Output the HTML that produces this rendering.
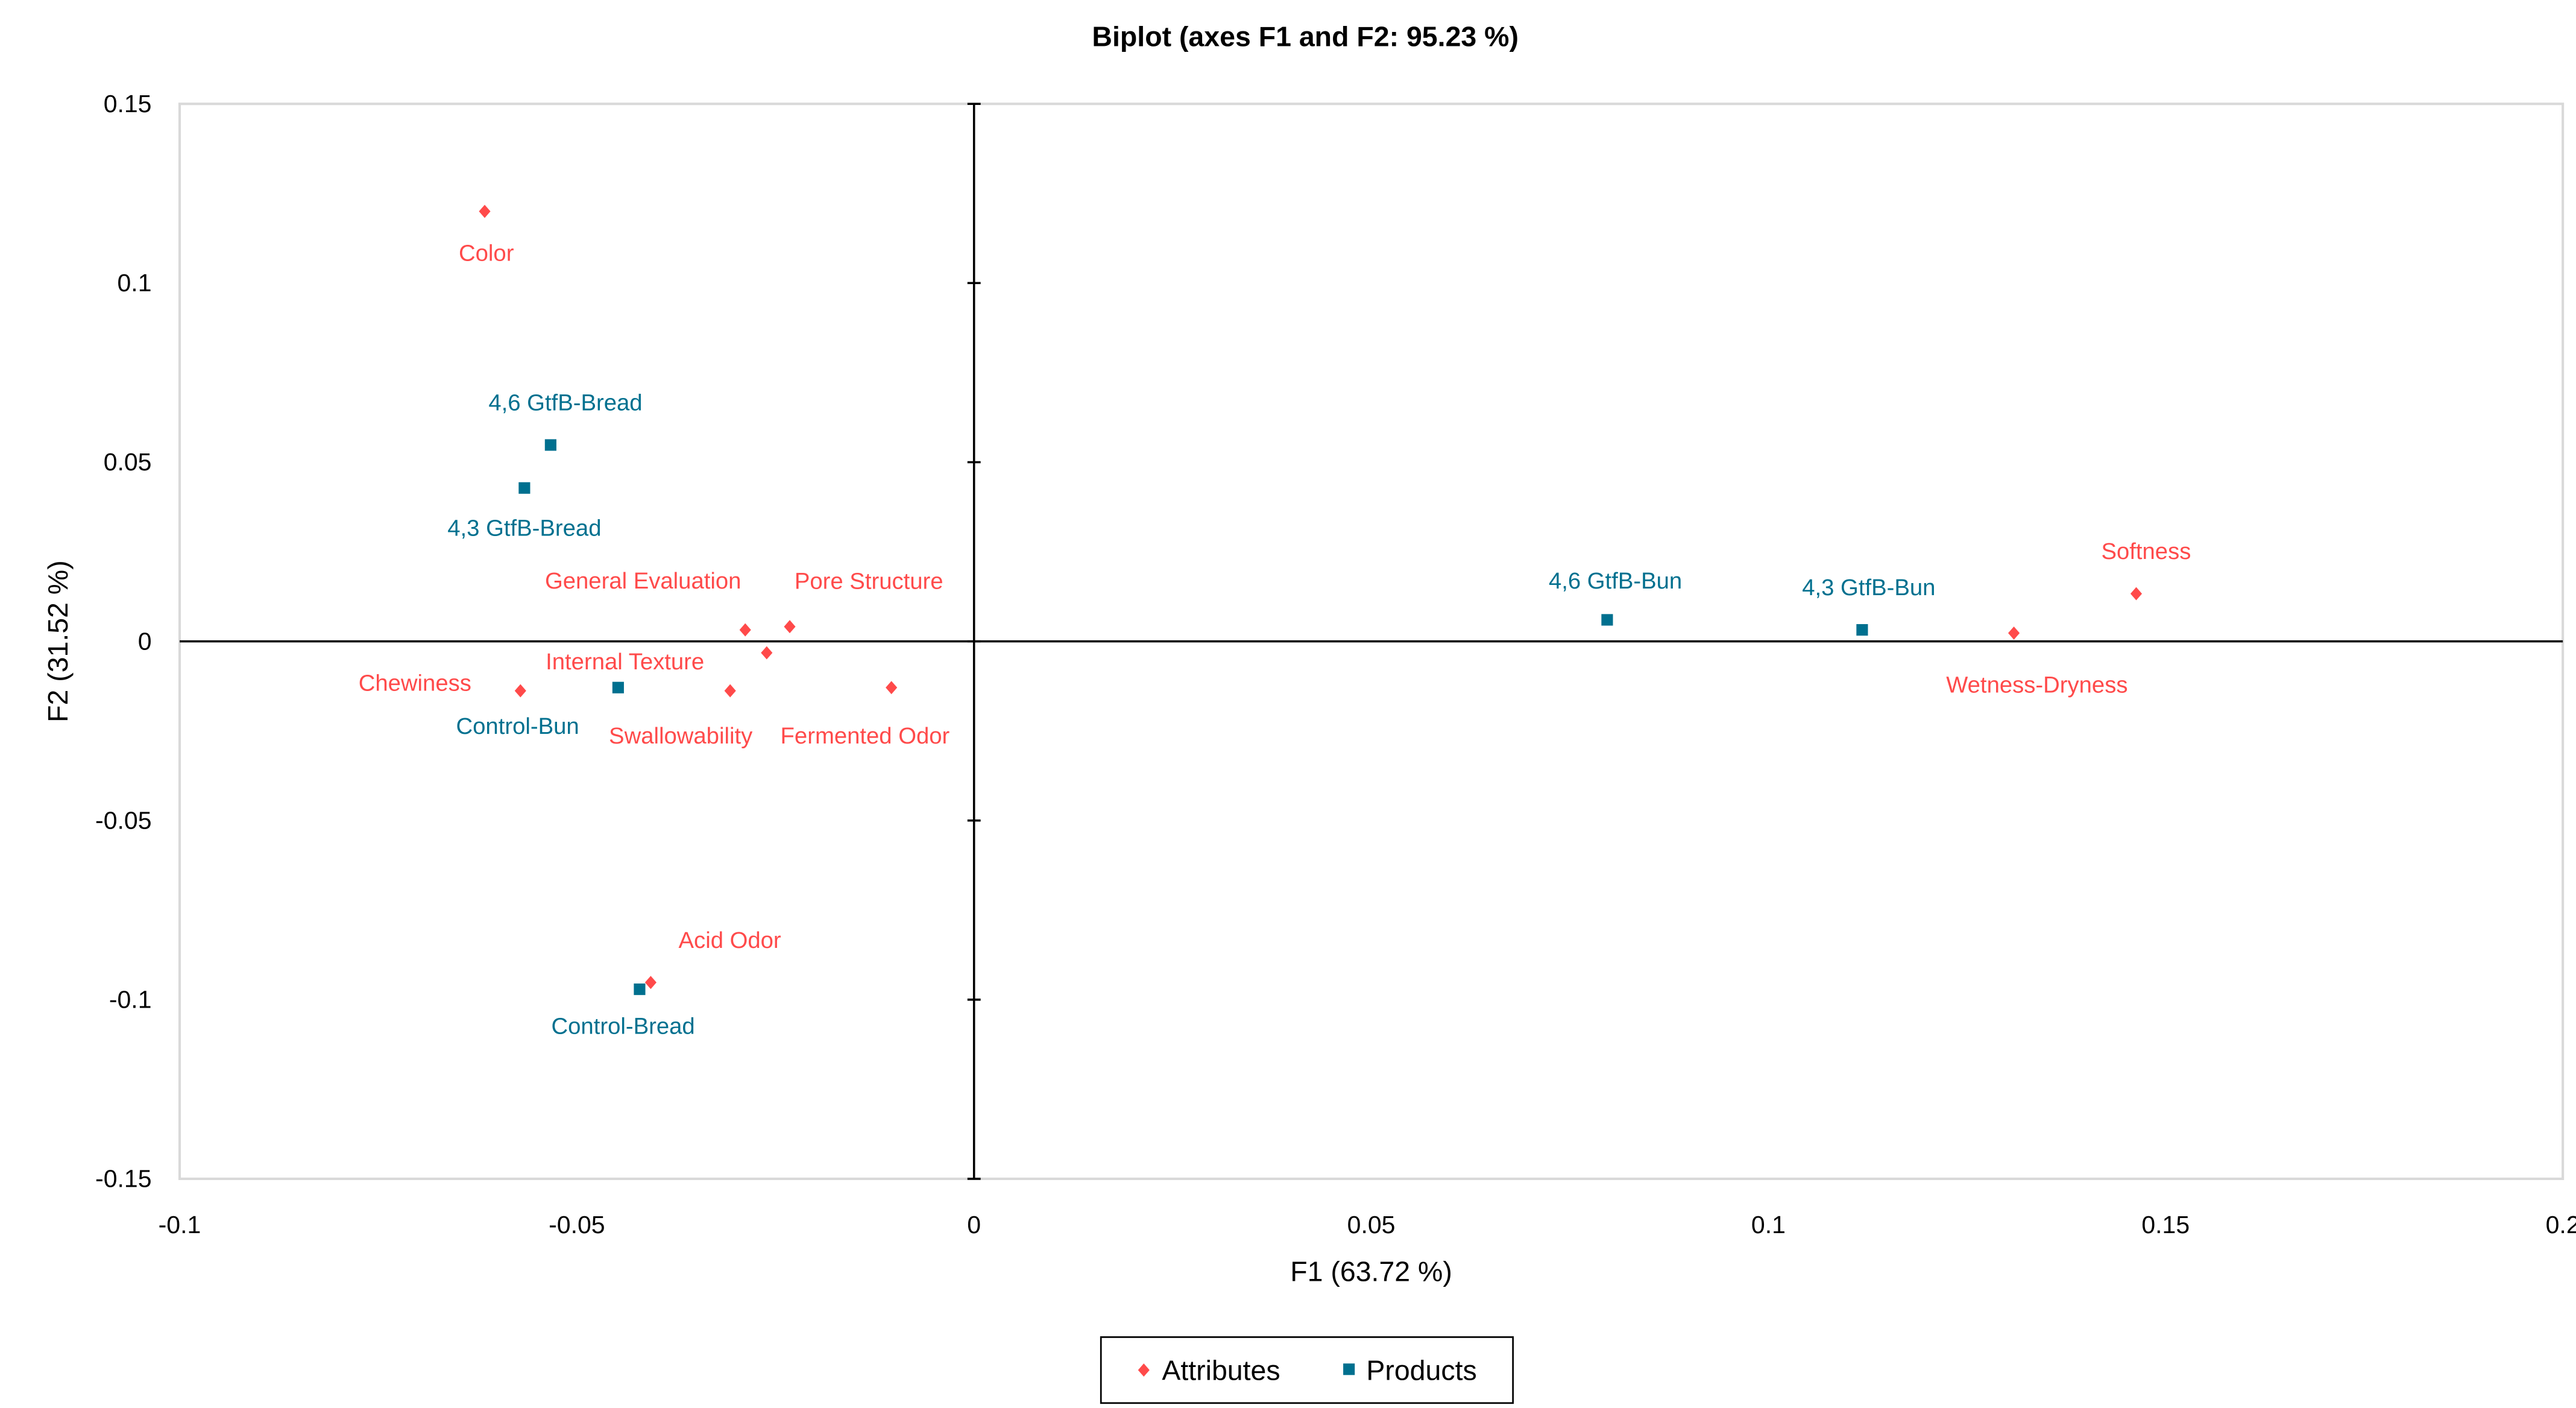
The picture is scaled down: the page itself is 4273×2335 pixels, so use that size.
<!DOCTYPE html>
<html><head><meta charset="utf-8"><style>
html,body{margin:0;padding:0;background:#fff;width:4273px;height:2335px;overflow:hidden}
svg{display:block}
text{font-family:"Liberation Sans",sans-serif}
</style></head><body>
<svg id="chart" width="4273" height="2335" viewBox="0 0 1563 854" preserveAspectRatio="none" xmlns="http://www.w3.org/2000/svg">
<text x="792" y="28" font-size="17" font-weight="bold" text-anchor="middle" fill="#000">Biplot (axes F1 and F2: 95.23 %)</text>
<rect x="109" y="63" width="1446" height="652" fill="none" stroke="#d9d9d9" stroke-width="1.5"/>
<g id="axes"></g>
<g id="marks"></g>
<text x="832" y="777" font-size="17" text-anchor="middle" fill="#000">F1 (63.72 %)</text>
<text x="0" y="0" font-size="17" text-anchor="middle" fill="#000" transform="translate(41,389) rotate(-90)">F2 (31.52 %)</text>
<g>
<rect x="668" y="811" width="250" height="40" fill="#fff" stroke="#000" stroke-width="1"/>
<path d="M694,827 L697.5,831 L694,835 L690.5,831 Z" fill="#ff4a4a"/>
<text x="705" y="837" font-size="17" fill="#000">Attributes</text>
<rect x="815" y="827" width="7" height="7" fill="#00708f"/>
<text x="829" y="837" font-size="17" fill="#000">Products</text>
</g>
</svg>
<script>
const xTicks = [-0.1, -0.05, 0, 0.05, 0.1, 0.15, 0.2];
const xTickLabels = ["-0.1", "-0.05", "0", "0.05", "0.1", "0.15", "0.2"];
const yTicks = [0.15, 0.1, 0.05, 0, -0.05, -0.1, -0.15];
const yTickLabels = ["0.15", "0.1", "0.05", "0", "-0.05", "-0.1", "-0.15"];
const attrNames = ["Color","General Evaluation","Pore Structure","Internal Texture","Chewiness","Swallowability","Fermented Odor","Acid Odor","Wetness-Dryness","Softness"];
const attrF1 = [-0.0616,-0.0288,-0.0232,-0.0261,-0.0571,-0.0307,-0.0104,-0.0407,0.1309,0.1463];
const attrF2 = [0.120,0.0032,0.0041,-0.0032,-0.0138,-0.0138,-0.0129,-0.0952,0.0023,0.0133];
const prodNames = ["4,6 GtfB-Bread","4,3 GtfB-Bread","Control-Bun","Control-Bread","4,6 GtfB-Bun","4,3 GtfB-Bun"];
const prodF1 = [-0.0533,-0.0566,-0.0448,-0.0421,0.0797,0.1118];
const prodF2 = [0.0548,0.0428,-0.0129,-0.0971,0.0060,0.0032];

const attrOffsets = {"Color":[1,25],"General Evaluation":[-62,-30],"Pore Structure":[48,-28],"Internal Texture":[-86,5],"Chewiness":[-64,-5],"Swallowability":[-30,27],"Fermented Odor":[-16,29],"Acid Odor":[48,-26],"Wetness-Dryness":[14,31],"Softness":[6,-26]};
const prodOffsets = {"4,6 GtfB-Bread":[9,-26],"4,3 GtfB-Bread":[0,24],"Control-Bun":[-61,23],"Control-Bread":[-10,22],"4,6 GtfB-Bun":[5,-24],"4,3 GtfB-Bun":[4,-26]};

const X0=109, X1=1555, Y0=63, Y1=715;
function xs(v){ return X0 + (v - (-0.1)) / 0.3 * (X1 - X0); }
function ys(v){ return Y1 - (v - (-0.15)) / 0.3 * (Y1 - Y0); }
const NS="http://www.w3.org/2000/svg";
function mk(tag, attrs, parent){ const e=document.createElementNS(NS,tag); for(const k in attrs) e.setAttribute(k,attrs[k]); parent.appendChild(e); return e; }
const axes=document.getElementById('axes'), marks=document.getElementById('marks');

let l=mk('line',{x1:X0,x2:X1,y1:ys(0),y2:ys(0),stroke:'#000','stroke-width':1.3},axes);


l=mk('line',{x1:xs(0),x2:xs(0),y1:Y0,y2:Y1,stroke:'#000','stroke-width':1.3},axes);



xTicks.forEach((v,i)=>{
  const t=mk('text',{x:xs(v),y:748,'font-size':15,'text-anchor':'middle',fill:'#000'},axes);
  t.textContent=xTickLabels[i];
  
  
});
yTicks.forEach((v,i)=>{
  const t=mk('text',{x:92,y:ys(v)+5,'font-size':15,'text-anchor':'end',fill:'#000'},axes);
  t.textContent=yTickLabels[i];
  
  
  const tk=mk('line',{x1:xs(0)-4,x2:xs(0)+4,y1:ys(v),y2:ys(v),stroke:'#000','stroke-width':1.3},axes);
  
  
});

attrNames.forEach((n,i)=>{
  const px=xs(attrF1[i]), py=ys(attrF2[i]);
  const d=mk('path',{d:`M${px},${py-4} L${px+3.5},${py} L${px},${py+4} L${px-3.5},${py} Z`,fill:'#ff4a4a'},marks);
  
  
  const o=attrOffsets[n]||[0,-20];
  const t=mk('text',{x:px+o[0],y:py+o[1]+5,'font-size':14,'text-anchor':'middle',fill:'#ff4a4a'},marks);
  t.textContent=n;
  
  
});
prodNames.forEach((n,i)=>{
  const px=xs(prodF1[i]), py=ys(prodF2[i]);
  const r=mk('rect',{x:px-3.5,y:py-3.5,width:7,height:7,fill:'#00708f'},marks);
  
  
  const o=prodOffsets[n]||[0,-20];
  const t=mk('text',{x:px+o[0],y:py+o[1]+5,'font-size':14,'text-anchor':'middle',fill:'#00708f'},marks);
  t.textContent=n;
  
  
});
</script>
</body></html>
